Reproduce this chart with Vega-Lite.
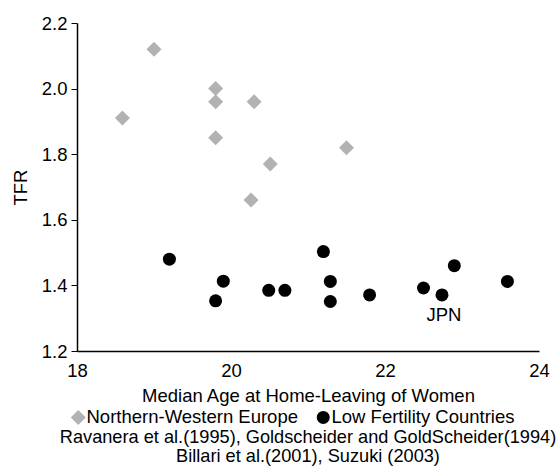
{
  "$schema": "https://vega.github.io/schema/vega-lite/v6.json",
  "autosize": {"type": "none"},
  "padding": {"left": 77, "top": 23, "right": 21, "bottom": 117},
  "width": 462,
  "height": 328,
  "background": "white",
  "config": {
    "view": {"stroke": null},
    "font": "Liberation Sans",
    "axis": {"grid": false, "domainColor": "black", "tickColor": "black", "labelColor": "black", "titleColor": "black", "labelFont": "Liberation Sans", "titleFont": "Liberation Sans", "labelFontSize": 18.5, "titleFontSize": 18.5, "titleFontWeight": "normal", "domainWidth": 1.5}
  },
  "title": {
    "text": ["Ravanera et al.(1995), Goldscheider and GoldScheider(1994)", "Billari et al.(2001), Suzuki (2003)"],
    "orient": "bottom",
    "anchor": "middle",
    "frame": "group",
    "font": "Liberation Sans",
    "fontSize": 18.2,
    "fontWeight": "normal",
    "color": "black",
    "lineHeight": 18.5,
    "offset": 2
  },
  "data": {
    "values": [
      {"age": 18.59, "tfr": 1.91, "group": "Northern-Western Europe", "label": ""},
      {"age": 19.0, "tfr": 2.12, "group": "Northern-Western Europe", "label": ""},
      {"age": 19.8, "tfr": 2.0, "group": "Northern-Western Europe", "label": ""},
      {"age": 19.8, "tfr": 1.96, "group": "Northern-Western Europe", "label": ""},
      {"age": 19.8, "tfr": 1.85, "group": "Northern-Western Europe", "label": ""},
      {"age": 20.3, "tfr": 1.96, "group": "Northern-Western Europe", "label": ""},
      {"age": 20.51, "tfr": 1.77, "group": "Northern-Western Europe", "label": ""},
      {"age": 20.26, "tfr": 1.66, "group": "Northern-Western Europe", "label": ""},
      {"age": 21.5, "tfr": 1.82, "group": "Northern-Western Europe", "label": ""},
      {"age": 19.2, "tfr": 1.48, "group": "Low Fertility Countries", "label": ""},
      {"age": 19.9, "tfr": 1.413, "group": "Low Fertility Countries", "label": ""},
      {"age": 19.8, "tfr": 1.353, "group": "Low Fertility Countries", "label": ""},
      {"age": 20.49, "tfr": 1.385, "group": "Low Fertility Countries", "label": ""},
      {"age": 20.7, "tfr": 1.385, "group": "Low Fertility Countries", "label": ""},
      {"age": 21.2, "tfr": 1.503, "group": "Low Fertility Countries", "label": ""},
      {"age": 21.29, "tfr": 1.412, "group": "Low Fertility Countries", "label": ""},
      {"age": 21.29, "tfr": 1.351, "group": "Low Fertility Countries", "label": ""},
      {"age": 21.8, "tfr": 1.371, "group": "Low Fertility Countries", "label": ""},
      {"age": 22.5, "tfr": 1.392, "group": "Low Fertility Countries", "label": ""},
      {"age": 22.74, "tfr": 1.371, "group": "Low Fertility Countries", "label": "JPN"},
      {"age": 22.9, "tfr": 1.46, "group": "Low Fertility Countries", "label": ""},
      {"age": 23.59, "tfr": 1.412, "group": "Low Fertility Countries", "label": ""}
    ]
  },
  "encoding": {
    "x": {
      "field": "age", "type": "quantitative",
      "scale": {"domain": [18, 24], "nice": false, "zero": false},
      "axis": {"values": [18, 20, 22, 24], "ticks": false, "labelPadding": 10, "title": "Median Age at Home-Leaving of Women", "titlePadding": 7, "labelFlush": false}
    },
    "y": {
      "field": "tfr", "type": "quantitative",
      "scale": {"domain": [1.2, 2.2], "nice": false, "zero": false},
      "axis": {"values": [1.2, 1.4, 1.6, 1.8, 2.0, 2.2], "format": ".1f", "tickSize": 6, "labelPadding": 4, "title": "TFR", "titlePadding": 11}
    }
  },
  "layer": [
    {
      "mark": {"type": "point", "filled": true, "opacity": 1, "strokeWidth": 0},
      "encoding": {
        "color": {
          "field": "group", "type": "nominal",
          "scale": {"domain": ["Northern-Western Europe", "Low Fertility Countries"], "range": ["#b2b2b2", "#000000"]},
          "legend": {
            "title": null, "orient": "none", "direction": "horizontal",
            "legendX": -8, "legendY": 385,
            "labelFont": "Liberation Sans", "labelFontSize": 18.5, "labelColor": "black", "labelLimit": 400,
            "symbolSize": 110, "symbolStrokeWidth": 0, "labelOffset": -1, "columnPadding": 16
          }
        },
        "shape": {
          "field": "group", "type": "nominal",
          "scale": {"domain": ["Northern-Western Europe", "Low Fertility Countries"], "range": ["diamond", "circle"]}
        },
        "size": {
          "field": "group", "type": "nominal",
          "scale": {"domain": ["Northern-Western Europe", "Low Fertility Countries"], "range": [225, 169]},
          "legend": null
        }
      }
    },
    {
      "transform": [{"filter": "datum.label != ''"}],
      "mark": {"type": "text", "dy": 20, "dx": 2, "fontSize": 18.5, "font": "Liberation Sans", "color": "black"},
      "encoding": {"text": {"field": "label"}}
    }
  ]
}
